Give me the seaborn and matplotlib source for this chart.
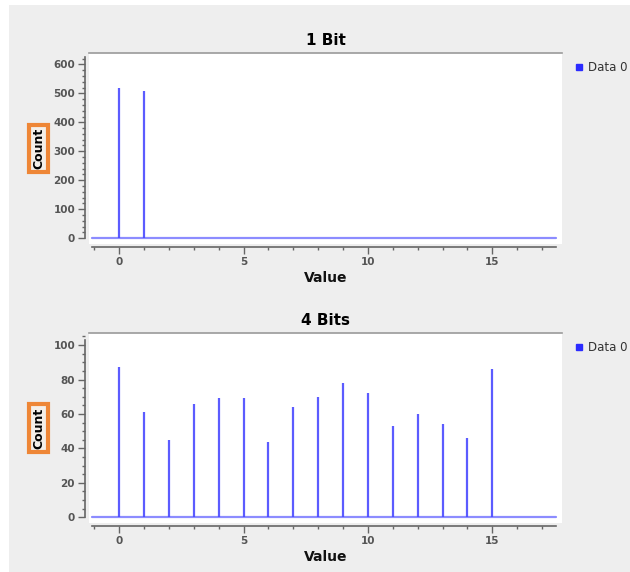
import numpy as np
import pandas as pd
import seaborn as sns
import matplotlib.pyplot as plt
from matplotlib.ticker import MultipleLocator

# Histogram counts per value
values_1bit = [0, 1]
counts_1bit = [517, 507]

values_4bit = list(range(16))
counts_4bit = [87, 61, 45, 66, 69, 69, 44, 64, 70, 78, 72, 53, 60, 54, 46, 86]

titles = ["1 Bit", "4 Bits"]
series_name = "Data 0"

sns.set_theme(style="white")
plt.rcParams["font.family"] = ["DejaVu Sans"]

fig = plt.figure(figsize=(6.3, 5.72), dpi=100)
fig.patch.set_facecolor("white")
# grey panel behind the plots
fig.patches.append(plt.Rectangle((9 / 630, 0), 1 - 9 / 630, 1 - 5 / 572,
                                 transform=fig.transFigure, facecolor="#eeeeee",
                                 edgecolor="none", zorder=-10))

line_col = "#4a4aff"
base_col = "#8c8cff"
tick_col = "#555555"

panels = [
    dict(vals=values_1bit, counts=counts_1bit, rect=[89 / 630, 1 - 244 / 572, 473 / 630, 191 / 572],
         ylim=(-19.7, 639), ymajor=100, yminor=20, ytop=625),
    dict(vals=values_4bit, counts=counts_4bit, rect=[89 / 630, 1 - 523 / 572, 473 / 630, 190 / 572],
         ylim=(-3.3, 107), ymajor=20, yminor=5, ytop=103),
]

for title, p in zip(titles, panels):
    ax = fig.add_axes(p["rect"])
    ax.set_facecolor("white")
    df = pd.DataFrame({"Value": p["vals"], "Count": p["counts"]})
    # spikes at each value
    ax.vlines(df["Value"], 0, df["Count"], color=line_col, linewidth=1.6, alpha=0.9, zorder=3)
    # baseline over the full value range
    sns.lineplot(x=[-1.1, 17.55], y=[0, 0], ax=ax, color=base_col, linewidth=1.6, zorder=2)
    # legend proxy
    ax.plot([], [], "s", color="#2b2bff", markersize=5, label=series_name)

    ax.set_xlim(-1.21, 17.8)
    ax.set_ylim(*p["ylim"])
    ax.xaxis.set_major_locator(MultipleLocator(5))
    ax.xaxis.set_minor_locator(MultipleLocator(1))
    ax.yaxis.set_major_locator(MultipleLocator(p["ymajor"]))
    ax.yaxis.set_minor_locator(MultipleLocator(p["yminor"]))

    ax.spines["right"].set_visible(False)
    ax.spines["top"].set_color("#9a9a9a")
    ax.spines["top"].set_linewidth(1.2)
    ax.spines["left"].set_position(("outward", 3))
    ax.spines["bottom"].set_position(("outward", 2.5))
    ax.spines["left"].set_bounds(0, p["ytop"])
    ax.spines["bottom"].set_bounds(-1.1, 17.55)
    for s in ["left", "bottom"]:
        ax.spines[s].set_color("#666666")
        ax.spines[s].set_linewidth(1.2)

    ax.tick_params(axis="both", which="major", direction="out", length=5, width=1,
                   color="#666666", labelsize=7.5, labelcolor=tick_col, pad=2,
                   left=True, bottom=True)
    ax.tick_params(axis="both", which="minor", direction="out", length=2.5, width=1,
                   color="#666666", left=True, bottom=True)
    for lab in ax.get_xticklabels() + ax.get_yticklabels():
        lab.set_fontweight("bold")

    ax.set_title(title, fontsize=11, fontweight="bold", pad=6, color="black")
    ax.set_xlabel("Value", fontsize=10, fontweight="bold", labelpad=3, color="#111111")
    ax.set_ylabel("Count", fontsize=9, fontweight="bold", labelpad=6, color="black",
                  bbox=dict(boxstyle="square,pad=0.25", facecolor="#f4efe9",
                            edgecolor="#ee8636", linewidth=3))
    ax.legend(loc="upper left", bbox_to_anchor=(1.01, 1.0), frameon=False,
              fontsize=8.5, handlelength=0.6, handletextpad=0.5, borderaxespad=0.3,
              labelcolor="#333333")

fig.savefig("out.png", dpi=100)
